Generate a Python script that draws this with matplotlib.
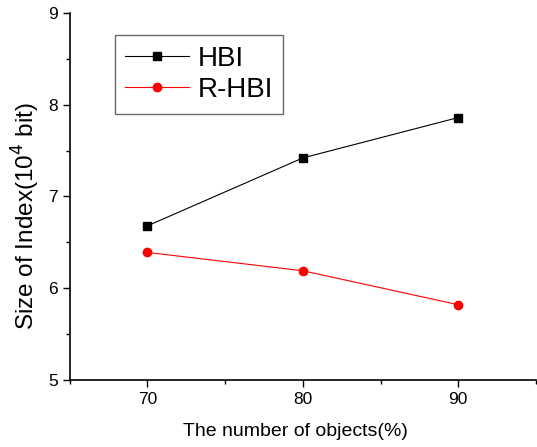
import matplotlib
matplotlib.use('Agg')
from matplotlib import pyplot as plt
from matplotlib.ticker import MultipleLocator

x = [70, 80, 90]
hbi = [6.68, 7.42, 7.86]
rhbi = [6.39, 6.19, 5.82]
labels = ['HBI', 'R-HBI']

plt.rcParams['font.family'] = ['Liberation Sans', 'DejaVu Sans']

fig = plt.figure(figsize=(5.37, 4.47), dpi=100)
ax = fig.add_axes([0.130, 0.150, 0.868, 0.821])

ax.plot(x, hbi, color='black', marker='s', markersize=6, linewidth=0.8, label=labels[0])
ax.plot(x, rhbi, color='red', marker='o', markersize=6, linewidth=0.8, label=labels[1])

ax.set_xlim(65, 95)
ax.set_ylim(5, 9)
ax.xaxis.set_major_locator(MultipleLocator(10))
ax.xaxis.set_minor_locator(MultipleLocator(5))
ax.yaxis.set_major_locator(MultipleLocator(1))
ax.yaxis.set_minor_locator(MultipleLocator(0.5))
ax.tick_params(which='major', length=5, width=1, labelsize=12.5, direction='out')
ax.tick_params(which='minor', length=3, width=1, direction='out')

ax.spines['top'].set_visible(False)
ax.spines['right'].set_visible(False)
ax.spines['left'].set_linewidth(1.2)
ax.spines['bottom'].set_linewidth(1.2)

ax.set_xlabel('The number of objects(%)', fontsize=14)
ax.xaxis.set_label_coords((296 - 70) / 466, -(432 - 380) / 367, transform=ax.transAxes)
ax.set_ylabel('Size of Index(10$^4$ bit)', fontsize=17.5)
ax.yaxis.set_label_coords(-(70 - 26) / 466, (380 - 216) / 367, transform=ax.transAxes)
ax.xaxis.label.set_va('center')
ax.yaxis.label.set_va('center')

leg = ax.legend(loc='upper left', bbox_to_anchor=(0.096, 0.94), fontsize=20,
                fancybox=False, edgecolor='#444444', handlelength=2.3,
                borderpad=0.38, labelspacing=0.2, handletextpad=0.3,
                borderaxespad=0)
leg.get_frame().set_linewidth(1.0)

plt.savefig('out.png', dpi=100)
